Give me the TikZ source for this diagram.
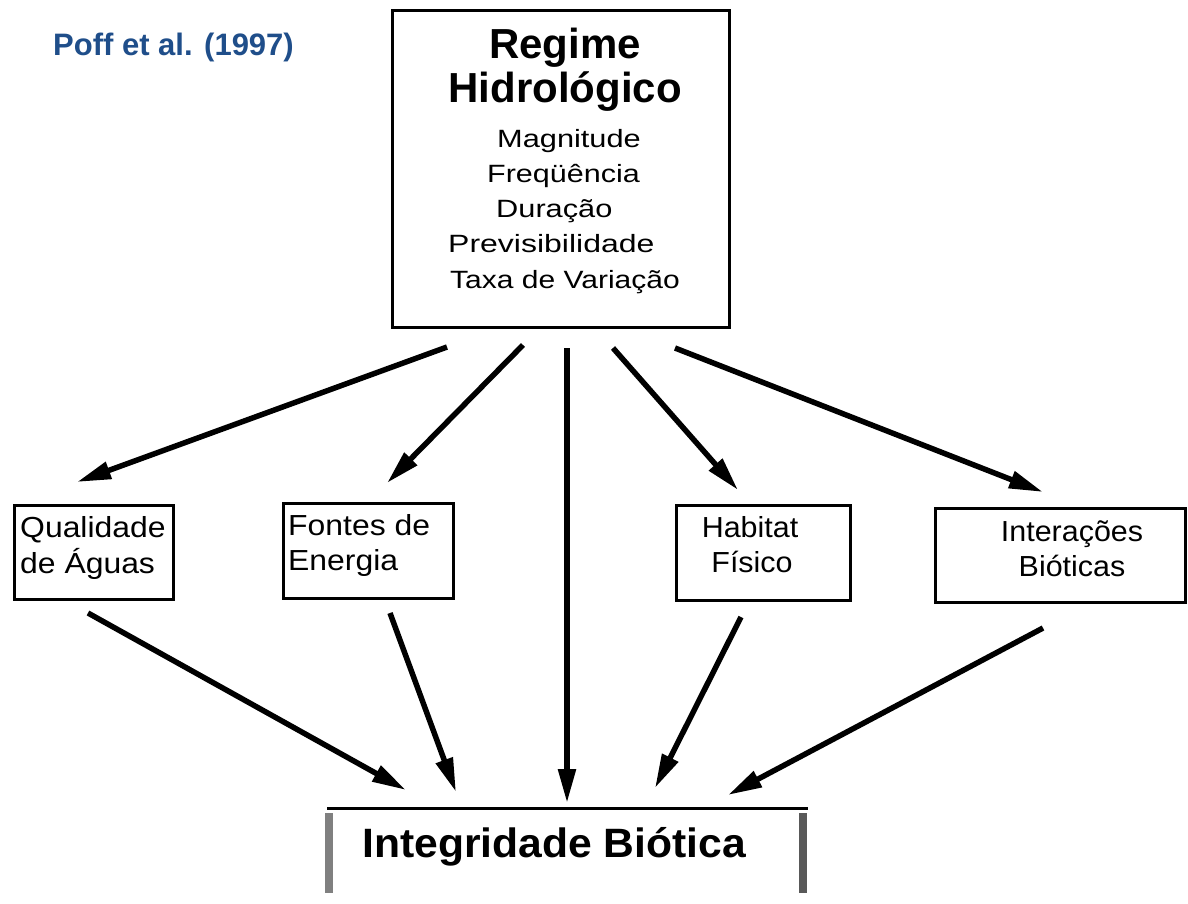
\documentclass[tikz,border=0pt]{standalone}
\usepackage{fontspec}
\usepackage{graphicx}
\setmainfont{Liberation Sans}
\newfontfamily\pixfont{Liberation Sans}
\usetikzlibrary{arrows.meta}
\definecolor{poffblue}{RGB}{31,78,138}
\newcommand{\sxw}[2]{\scalebox{#1}[1]{#2}}
\tikzset{
  frame/.style={draw=black, line width=3pt, fill=none, inner sep=0pt},
  titletxt/.style={inner sep=0pt, font=\fontsize{42}{48}\selectfont\bfseries},
  smalltxt/.style={inner sep=0pt, anchor=base west, font=\fontsize{25}{28}\selectfont},
  boxtxt/.style={inner sep=0pt, font=\fontsize{29}{34}\selectfont},
  arr/.style={line width=5.5pt, -{Triangle[length=34pt,width=17pt]}, shorten >=0pt},
}
\begin{document}
\begin{tikzpicture}[x=1pt,y=-1pt]
\useasboundingbox (0,0) rectangle (1188,903);
\fill[white] (0,0) rectangle (1188,903);

% reference label
\node[inner sep=0pt, anchor=base west, text=poffblue, font=\fontsize{31}{36}\selectfont\bfseries] (poff) at (53,55) {Poff et al. (1997)};

% top box
\node[frame, minimum width=337pt, minimum height=317pt] (top) at (560.5,168.5) {};
\node[titletxt, anchor=base] (t1) at (565,58) {Regime};
\node[titletxt, anchor=base] (t2) at (565,102) {Hidrológico};
\node[smalltxt] (m1) at (497,147) {\sxw{1.23}{Magnitude}};
\node[smalltxt] (m2) at (487,182) {\sxw{1.22}{Freqüência}};
\node[smalltxt] (m3) at (496,217) {\sxw{1.23}{Duração}};
\node[smalltxt] (m4) at (448,252) {\sxw{1.28}{Previsibilidade}};
\node[smalltxt] (m5) at (450,288) {\sxw{1.2}{Taxa de Variação}};

% middle boxes
\node[frame, minimum width=159pt, minimum height=94pt] (qa) at (93.5,552) {};
\node[boxtxt, anchor=base west] (qa1) at (20,537) {\sxw{1.1}{Qualidade}};
\node[boxtxt, anchor=base west] (qa2) at (20,573) {\sxw{1.1}{de Águas}};

\node[frame, minimum width=170pt, minimum height=95pt] (fe) at (368,550.5) {};
\node[boxtxt, anchor=base west] (fe1) at (288,535) {\sxw{1.1}{Fontes de}};
\node[boxtxt, anchor=base west] (fe2) at (288,570) {\sxw{1.1}{Energia}};

\node[frame, minimum width=174pt, minimum height=95pt] (hf) at (763,552.5) {};
\node[boxtxt, anchor=base] (hf1) at (750,537) {\sxw{1.05}{Habitat}};
\node[boxtxt, anchor=base] (hf2) at (752,572) {\sxw{1.05}{Físico}};

\node[frame, minimum width=250pt, minimum height=94pt] (ib) at (1060,555) {};
\node[boxtxt, anchor=base] (ib1) at (1072,541) {\sxw{1.05}{Interações}};
\node[boxtxt, anchor=base] (ib2) at (1072,576) {\sxw{1.05}{Bióticas}};

% bottom box (open frame)
\coordinate (bl) at (327,808);
\coordinate (br) at (808,808);
\draw[line width=3pt] (bl) -- (br);
\coordinate (lb1) at (329,813);
\coordinate (lb2) at (329,893);
\coordinate (rb1) at (803,813);
\coordinate (rb2) at (803,893);
\draw[line width=8pt, draw=black!50] (lb1) -- (lb2);
\draw[line width=8pt, draw=black!65] (rb1) -- (rb2);
\node[inner sep=0pt, anchor=base west, font=\fontsize{41}{48}\selectfont\bfseries] (ig) at (362,857) {\sxw{1.04}{Integridade Biótica}};

% arrow end points
\coordinate (s1) at (447,347);  \coordinate (e1) at (77,482);
\coordinate (s2) at (523,345);  \coordinate (e2) at (387,483);
\coordinate (s3) at (567,348);  \coordinate (e3) at (567,803);
\coordinate (s4) at (613,348);  \coordinate (e4) at (738,490);
\coordinate (s5) at (675,348);  \coordinate (e5) at (1043,492);
\coordinate (s6) at (88,613);   \coordinate (e6) at (406,790);
\coordinate (s7) at (390,613);  \coordinate (e7) at (456,792);
\coordinate (s8) at (741,617);  \coordinate (e8) at (655,788);
\coordinate (s9) at (1043,628); \coordinate (e9) at (728,795);

\draw[arr] (s1) -- (e1);
\draw[arr] (s2) -- (e2);
\draw[arr] (s3) -- (e3);
\draw[arr] (s4) -- (e4);
\draw[arr] (s5) -- (e5);
\draw[arr] (s6) -- (e6);
\draw[arr] (s7) -- (e7);
\draw[arr] (s8) -- (e8);
\draw[arr] (s9) -- (e9);
\end{tikzpicture}
\end{document}
